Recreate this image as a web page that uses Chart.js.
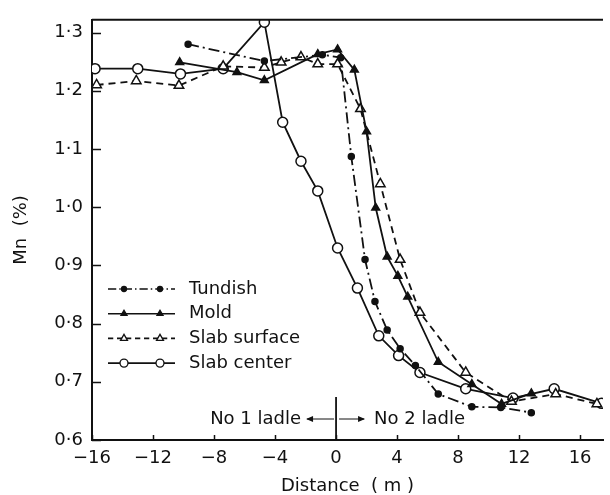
<!DOCTYPE html>
<html>
<head>
<meta charset="utf-8">
<script src="https://cdn.jsdelivr.net/npm/chart.js@4.4.1/dist/chart.umd.min.js"></script>
<style>
  html, body { margin: 0; padding: 0; background: #fff; }
  #wrap { width: 610px; height: 495px; }
</style>
</head>
<body>
<div id="wrap"><canvas id="c" width="610" height="495"></canvas></div>
<script>
// Mn content (%) along the strand, distance (m) measured from the ladle change
const tundishX  = [-9.7, -4.7, -0.9, 0.3, 1.0, 1.9, 2.55, 3.35, 4.2, 5.2, 6.7, 8.9, 10.8, 12.8];
const tundishMn = [1.280, 1.251, 1.262, 1.257, 1.087, 0.910, 0.838, 0.789, 0.757, 0.728, 0.679, 0.657, 0.656, 0.647];

const moldX  = [-10.25, -6.5, -4.7, -1.2, 0.1, 1.2, 2.0, 2.6, 3.35, 4.05, 4.7, 6.7, 8.9, 10.85, 12.8];
const moldMn = [1.249, 1.232, 1.218, 1.263, 1.271, 1.236, 1.130, 0.999, 0.915, 0.882, 0.846, 0.734, 0.696, 0.662, 0.680];

const surfaceX  = [-15.7, -13.1, -10.3, -7.4, -4.7, -3.6, -2.3, -1.2, 0.1, 1.6, 2.9, 4.2, 5.5, 8.5, 11.5, 14.4, 17.1];
const surfaceMn = [1.210, 1.217, 1.209, 1.242, 1.240, 1.249, 1.258, 1.246, 1.246, 1.169, 1.040, 0.910, 0.819, 0.716, 0.666, 0.679, 0.662];

const centerX  = [-15.8, -13.0, -10.2, -7.4, -4.7, -3.5, -2.3, -1.2, 0.1, 1.4, 2.8, 4.1, 5.5, 8.5, 11.6, 14.3, 17.4];
const centerMn = [1.238, 1.238, 1.229, 1.238, 1.318, 1.146, 1.079, 1.028, 0.930, 0.861, 0.779, 0.745, 0.716, 0.688, 0.672, 0.688, 0.663];

const seriesNames = ['Tundish', 'Mold', 'Slab surface', 'Slab center'];
const xTicks = [-16, -12, -8, -4, 0, 4, 8, 12, 16];
const yTicks = [0.6, 0.7, 0.8, 0.9, 1.0, 1.1, 1.2, 1.3];
const ladleLabels = ['No 1 ladle', 'No 2 ladle'];

const INK = '#111';
const FONT = 'DejaVu Sans';

function pts(xs, ys) { return xs.map((x, i) => ({ x: x, y: ys[i] })); }

// line / marker style of each series, reused by the legend
const styles = [
  { dash: [11, 4, 2, 4], pointStyle: 'circle',   radius: 3,   fill: INK,    lRadius: 2.5 },
  { dash: [],            pointStyle: 'triangle', radius: 4.5, fill: INK,    lRadius: 3.5 },
  { dash: [7, 5],        pointStyle: 'triangle', radius: 5.5, fill: '#fff', lRadius: 4 },
  { dash: [],            pointStyle: 'circle',   radius: 5,   fill: '#fff', lRadius: 4 }
];
const seriesData = [pts(tundishX, tundishMn), pts(moldX, moldMn), pts(surfaceX, surfaceMn), pts(centerX, centerMn)];

const datasets = seriesNames.map((name, i) => ({
  label: name,
  data: seriesData[i],
  showLine: true,
  borderColor: INK,
  borderWidth: 1.8,
  borderDash: styles[i].dash,
  tension: 0,
  pointStyle: styles[i].pointStyle,
  pointRadius: styles[i].radius,
  pointHoverRadius: styles[i].radius,
  pointBorderWidth: 1.5,
  pointBorderColor: INK,
  pointBackgroundColor: styles[i].fill
}));

// frame, inward ticks, ladle-change marker and legend
const decorations = {
  id: 'decorations',
  afterDraw(chart) {
    const { ctx, chartArea: a, scales: { x, y } } = chart;
    ctx.save();
    ctx.strokeStyle = INK;
    ctx.fillStyle = INK;

    // top frame line
    ctx.lineWidth = 2;
    ctx.beginPath();
    ctx.moveTo(a.left, a.top);
    ctx.lineTo(a.right, a.top);
    ctx.stroke();

    // inward tick marks
    ctx.lineWidth = 1.5;
    ctx.beginPath();
    yTicks.forEach(v => {
      const py = Math.round(y.getPixelForValue(v)) + 0.5;
      ctx.moveTo(a.left, py);
      ctx.lineTo(a.left + 9, py);
    });
    xTicks.forEach(v => {
      const px = Math.round(x.getPixelForValue(v)) + 0.5;
      ctx.moveTo(px, a.bottom);
      ctx.lineTo(px, a.bottom - 5);
    });
    ctx.stroke();

    // ladle change at distance 0
    const x0 = x.getPixelForValue(0);
    const ay = a.bottom - 21;
    ctx.lineWidth = 1.8;
    ctx.beginPath();
    ctx.moveTo(x0, a.bottom - 43);
    ctx.lineTo(x0, a.bottom);
    ctx.stroke();

    ctx.lineWidth = 1;
    ctx.beginPath();
    ctx.moveTo(x0 - 2, ay); ctx.lineTo(x0 - 29, ay);
    ctx.moveTo(x0 + 3, ay); ctx.lineTo(x0 + 28, ay);
    ctx.stroke();
    ctx.beginPath();
    ctx.moveTo(x0 - 30, ay); ctx.lineTo(x0 - 23, ay - 3); ctx.lineTo(x0 - 23, ay + 3); ctx.closePath();
    ctx.moveTo(x0 + 29, ay); ctx.lineTo(x0 + 22, ay - 3); ctx.lineTo(x0 + 22, ay + 3); ctx.closePath();
    ctx.fill();

    ctx.font = '18px "' + FONT + '"';
    ctx.textBaseline = 'middle';
    ctx.textAlign = 'right';
    ctx.fillText(ladleLabels[0], x0 - 35, ay);
    ctx.textAlign = 'left';
    ctx.fillText(ladleLabels[1], x0 + 38, ay);

    // legend
    const lx0 = a.left + 16, lx1 = a.left + 83;
    const m0 = a.left + 32, m1 = a.left + 68;
    seriesNames.forEach((name, i) => {
      const ly = 289 + i * 24.7;
      const st = styles[i];
      ctx.lineWidth = 1.6;
      ctx.setLineDash(st.dash.map(d => d * 0.75));
      ctx.beginPath();
      ctx.moveTo(lx0, ly);
      ctx.lineTo(lx1, ly);
      ctx.stroke();
      ctx.setLineDash([]);
      [m0, m1].forEach(mx => {
        ctx.fillStyle = st.fill;
        ctx.strokeStyle = INK;
        ctx.lineWidth = 1.3;
        Chart.helpers.drawPoint(ctx, { pointStyle: st.pointStyle, rotation: 0, radius: st.lRadius, borderWidth: 1.3 }, mx, ly);
      });
      ctx.fillStyle = INK;
      ctx.textAlign = 'left';
      ctx.fillText(name, a.left + 97, ly);
    });
    ctx.restore();
  }
};

Chart.defaults.font.family = FONT;
Chart.defaults.font.size = 18;
Chart.defaults.font.weight = 'normal';
Chart.defaults.color = INK;

new Chart(document.getElementById('c'), {
  type: 'scatter',
  data: { datasets: datasets },
  plugins: [decorations],
  options: {
    responsive: false,
    animation: false,
    devicePixelRatio: 1,
    layout: { padding: { left: 0, right: 5, top: 12, bottom: 0 } },
    plugins: { legend: { display: false }, tooltip: { enabled: false } },
    scales: {
      x: {
        type: 'linear',
        min: -16,
        max: 17.5,
        afterBuildTicks: s => { s.ticks = xTicks.map(v => ({ value: v })); },
        afterFit: s => { s.height = 55; },
        grid: { display: true, drawOnChartArea: false, drawTicks: false },
        border: { display: true, color: INK, width: 2 },
        ticks: {
          padding: 8,
          maxRotation: 0,
          autoSkip: false,
          callback: v => (v < 0 ? '\u2212' + Math.abs(v) : String(v))
        },
        title: { display: true, text: 'Distance  ( m )', font: { lineHeight: 1.0 }, padding: { top: 0, bottom: 0 } }
      },
      y: {
        type: 'linear',
        min: 0.6,
        max: 1.322,
        afterBuildTicks: s => { s.ticks = yTicks.map(v => ({ value: v })); },
        afterFit: s => { s.width = 92; },
        grid: { display: true, drawOnChartArea: false, drawTicks: false },
        border: { display: true, color: INK, width: 2 },
        ticks: {
          padding: 9,
          autoSkip: false,
          callback: v => v.toFixed(1).replace('.', '\u00b7')
        },
        title: { display: true, text: 'Mn  (%)', padding: { top: 11, bottom: 0 } }
      }
    }
  }
});
</script>
</body>
</html>
